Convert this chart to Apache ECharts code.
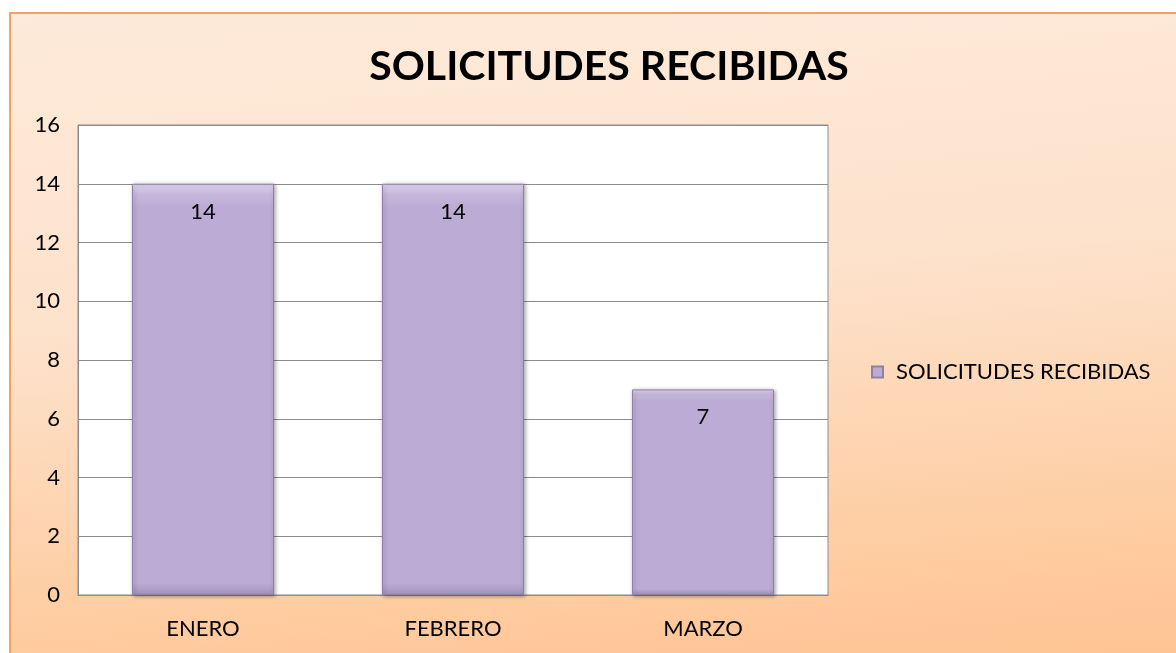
<!DOCTYPE html>
<html>
<head>
<meta charset="utf-8">
<script src="https://cdn.jsdelivr.net/npm/echarts@6/dist/echarts.min.js"></script>
<style>
  html, body { margin: 0; padding: 0; background: #fff; overflow: hidden; }
  #frame {
    position: absolute; left: 9px; top: 12px; width: 1200px; height: 700px;
    border-left: 2px solid #F9A05A; border-top: 2px solid #F9A05A;
    background: linear-gradient(175deg, #FEEADA 0%, #FDE2CC 40%, #FED0A8 70%, #FFBF8B 100%);
  }
  #mainChart { position: absolute; left: 0; top: 0; width: 1176px; height: 653px; }
</style>
</head>
<body>
<div id="frame"></div>
<div id="mainChart"></div>
<script>
const categories = ['ENERO', 'FEBRERO', 'MARZO']
const seriesName = 'SOLICITUDES RECIBIDAS'
const values = [14, 14, 7]
const titleText = 'SOLICITUDES RECIBIDAS'

const chart = echarts.init(document.getElementById('mainChart'))
const option = {
  backgroundColor: 'rgba(0,0,0,0)',
  textStyle: { fontFamily: 'Lato, "Open Sans", sans-serif' },
  title: {
    text: titleText,
    left: 604,
    textAlign: 'center',
    top: 41,
    textStyle: { fontSize: 41, fontWeight: 'bold', color: '#000', fontFamily: 'Lato, "Open Sans", sans-serif' }
  },
  legend: {
    data: [seriesName],
    left: 866,
    top: 356,
    itemWidth: 11,
    itemHeight: 11,
    itemGap: 10,
    icon: 'rect',
    textStyle: { fontSize: 22, color: '#000', padding: [0, 0, 0, 8] }
  },
  grid: {
    left: 78, top: 125, width: 750, height: 470,
    show: true, backgroundColor: '#fff', borderColor: '#8c8c8c', borderWidth: 1
  },
  xAxis: {
    type: 'category',
    data: categories,
    axisTick: { show: false },
    axisLine: { lineStyle: { color: '#8c8c8c' } },
    axisLabel: { fontSize: 22, color: '#000', margin: 23 }
  },
  yAxis: {
    type: 'value',
    min: 0, max: 16, interval: 2,
    axisLine: { show: true, lineStyle: { color: '#8c8c8c' } },
    axisTick: { show: false },
    splitLine: { lineStyle: { color: '#8c8c8c', width: 1 } },
    axisLabel: { fontSize: 22, color: '#000', margin: 18 }
  },
  series: [{
    name: seriesName,
    type: 'bar',
    data: values,
    barWidth: 142,
    itemStyle: {
      color: new echarts.graphic.LinearGradient(0, 0, 0, 1, [
        { offset: 0, color: '#E6DAF3' },
        { offset: 0.025, color: '#C6B7DC' },
        { offset: 0.06, color: '#BCABD4' },
        { offset: 0.97, color: '#BCABD4' },
        { offset: 1, color: '#A493BD' }
      ]),
      borderColor: '#8F80A6',
      borderWidth: 1,
      shadowColor: 'rgba(0,0,0,0.35)',
      shadowBlur: 4,
      shadowOffsetX: 1,
      shadowOffsetY: 1
    },
    label: {
      show: true,
      position: 'insideTop',
      distance: 17,
      fontSize: 22,
      color: '#000'
    }
  }]
}
chart.setOption(option)
</script>
</body>
</html>
